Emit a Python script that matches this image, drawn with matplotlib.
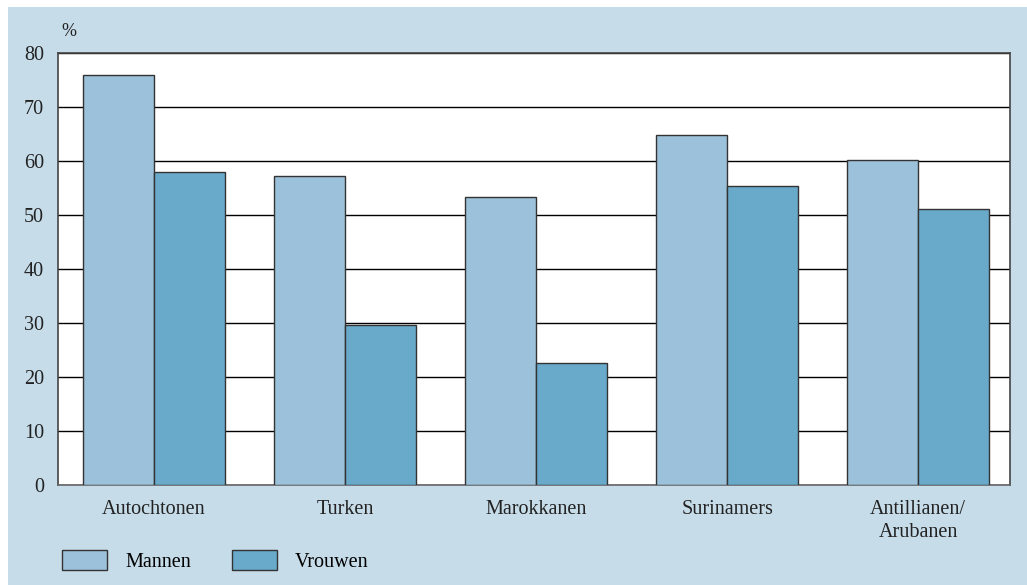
import numpy as np
import matplotlib
matplotlib.use('Agg')
import matplotlib.pyplot as plt
from matplotlib.patches import Rectangle, Patch

groepen = ['Autochtonen', 'Turken', 'Marokkanen', 'Surinamers', 'Antillianen/\nArubanen']
mannen = [75.9, 57.2, 53.3, 64.8, 60.2]
vrouwen = [58.0, 29.6, 22.6, 55.4, 51.1]
yticks = [0, 10, 20, 30, 40, 50, 60, 70, 80]

plt.rcParams['font.family'] = ['Liberation Serif', 'DejaVu Serif']

W, H = 1027, 585
fig = plt.figure(figsize=(W / 100, H / 100), dpi=100)
fig.patch.set_facecolor('white')
fig.add_artist(Rectangle((8 / W, 0), 1 - 8 / W, (H - 7) / H, transform=fig.transFigure,
                         facecolor='#c6dce9', edgecolor='none', zorder=0))

ax = fig.add_axes([58 / W, (H - 485) / H, (1010 - 58) / W, (485 - 53) / H])
ax.set_facecolor('white')

x = np.arange(len(groepen))
b = 0.372
ax.bar(x - b / 2, mannen, b, color='#9bc2da', edgecolor='#333333', linewidth=1, zorder=3)
ax.bar(x + b / 2, vrouwen, b, color='#69a9c9', edgecolor='#333333', linewidth=1, zorder=3)

fs = 14.5
ax.set_xlim(-0.503, 4.48)
ax.set_ylim(0, 80)
ax.set_yticks(yticks)
ax.set_yticklabels([str(t) for t in yticks], fontsize=fs, color='#222222')
ax.set_xticks(x)
ax.set_xticklabels(groepen, fontsize=fs, color='#222222', linespacing=1.25)
ax.tick_params(length=0)
ax.tick_params(axis='y', pad=10)
ax.tick_params(axis='x', pad=11)
ax.grid(axis='y', color='black', linewidth=1, zorder=1)
for s in ax.spines.values():
    s.set_color('#444444')
    s.set_linewidth(1.2)
ax.spines['bottom'].set_color('#666666')

fig.text(61 / W, 1 - 31 / H, '%', fontsize=13, color='#222222', va='center')

handles = [Patch(facecolor='#9bc2da', edgecolor='#333333', label='Mannen'),
           Patch(facecolor='#69a9c9', edgecolor='#333333', label='Vrouwen')]
fig.legend(handles=handles, loc='center left', bbox_to_anchor=(44 / W, 1 - 561 / H), ncol=2,
           frameon=False, fontsize=fs, handlelength=2.25, handleheight=1.15,
           columnspacing=2.0, handletextpad=0.9, borderpad=0.4)

fig.savefig('out.png', dpi=100)
